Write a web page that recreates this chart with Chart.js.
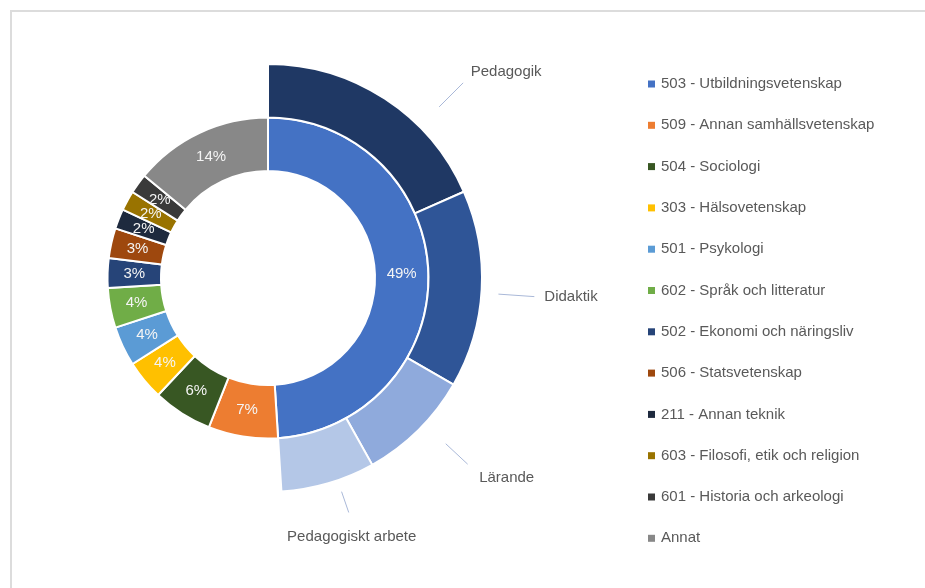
<!DOCTYPE html>
<html>
<head>
<meta charset="utf-8">
<script src="https://cdn.jsdelivr.net/npm/chart.js@4.4.0/dist/chart.umd.min.js"></script>
<style>
    body { margin: 0; background: #fff; }
    #wrap { position: relative; width: 925px; height: 588px; overflow: hidden; }
    #frame { position: absolute; left: 10px; top: 10px; width: 930px; height: 600px;
             border-top: 2px solid #dcdcdc; border-left: 2px solid #dcdcdc; }
    canvas { position: absolute; left: 0; top: 0; }
</style>
</head>
<body>
<div id="wrap">
    <div id="frame"></div>
    <canvas id="donut" width="925" height="588"></canvas>
</div>
<script>
// Inre ringen: ämnen
const categories = [
    "503 - Utbildningsvetenskap",
    "509 - Annan samhällsvetenskap",
    "504 - Sociologi",
    "303 - Hälsovetenskap",
    "501 - Psykologi",
    "602 - Språk och litteratur",
    "502 - Ekonomi och näringsliv",
    "506 - Statsvetenskap",
    "211 - Annan teknik",
    "603 - Filosofi, etik och religion",
    "601 - Historia och arkeologi",
    "Annat"
];
const shares = [49, 7, 6, 4, 4, 4, 3, 3, 2, 2, 2, 14];
const colors = ["#4472C4", "#ED7D31", "#385723", "#FFC000", "#5B9BD5", "#70AD47",
                "#264478", "#9E480E", "#1E2A3E", "#997300", "#3A3A3A", "#888888"];

// Yttre ringen: uppdelning av 503
const subLabels = ["Pedagogik", "Didaktik", "Lärande", "Pedagogiskt arbete"];
const subShares = [18.4, 14.9, 8.6, 7.1];
const subColors = ["#1F3864", "#2F5597", "#8FAADC", "#B4C7E7"];

// etikettlinjer: vinkel (grader från toppen), radie start, radie slut, textförskjutning
const subLabelLines = [
    { angle: 45, r0: 242, r1: 276, dx: 43, dy: -11, align: "center" },
    { angle: 94, r0: 231, r1: 267, dx: 10, dy: 0, align: "left" },
    { angle: 133, r0: 243, r1: 273, dx: 39, dy: 14, align: "center" },
    { angle: 161, r0: 226, r1: 248, dx: 3, dy: 24, align: "center" }
];

const FONT = '15px "Liberation Sans", Arial, sans-serif';
const TEXT_COLOR = "#595959";

// resten av yttre ringen ska vara tom
const restShare = 100 - subShares.reduce((a, b) => a + b, 0);

const labelPlugin = {
    id: "labelPlugin",
    afterDraw(chart) {
        const ctx = chart.ctx;
        ctx.save();
        ctx.font = FONT;
        ctx.textBaseline = "middle";

        // procent i inre ringen
        const inner = chart.getDatasetMeta(1);
        ctx.fillStyle = "#F4F4F4";
        ctx.textAlign = "center";
        inner.data.forEach((arc, i) => {
            const p = arc.getCenterPoint();
            ctx.fillText(shares[i] + "%", p.x, p.y);
        });

        // etiketter för yttre ringen
        const outer = chart.getDatasetMeta(0);
        const cx = outer.data[0].x;
        const cy = outer.data[0].y;
        subLabelLines.forEach((l, i) => {
            const a = l.angle * Math.PI / 180;
            const x0 = cx + l.r0 * Math.sin(a), y0 = cy - l.r0 * Math.cos(a);
            const x1 = cx + l.r1 * Math.sin(a), y1 = cy - l.r1 * Math.cos(a);
            ctx.strokeStyle = "#A9B8D8";
            ctx.lineWidth = 1;
            ctx.beginPath();
            ctx.moveTo(x0, y0);
            ctx.lineTo(x1, y1);
            ctx.stroke();
            ctx.fillStyle = TEXT_COLOR;
            ctx.textAlign = l.align;
            ctx.fillText(subLabels[i], x1 + l.dx, y1 + l.dy);
        });

        // förklaring till höger
        ctx.textAlign = "left";
        categories.forEach((c, i) => {
            const y = 84 + i * 41.3;
            ctx.fillStyle = colors[i];
            ctx.fillRect(648, y - 3.5, 7, 7);
            ctx.fillStyle = TEXT_COLOR;
            ctx.fillText(c, 661, y);
        });
        ctx.restore();
    }
};

const ctx = document.getElementById("donut").getContext("2d");
const chart = new Chart(ctx, {
    type: "doughnut",
    data: {
        labels: categories,
        datasets: [
            {
                label: "503",
                data: subShares.concat([restShare]),
                backgroundColor: subColors.concat(["rgba(0,0,0,0)"]),
                borderColor: subColors.map(() => "#ffffff").concat(["rgba(0,0,0,0)"]),
                borderWidth: 2,
                weight: 1
            },
            {
                label: "Ämnen",
                data: shares,
                backgroundColor: colors,
                borderColor: "#ffffff",
                borderWidth: 2,
                weight: 1
            }
        ]
    },
    options: {
        responsive: false,
        animation: false,
        cutout: "50%",
        layout: {
            padding: { left: 53, top: 63, right: 442, bottom: 95 }
        },
        plugins: {
            legend: { display: false },
            tooltip: { enabled: false }
        }
    },
    plugins: [labelPlugin]
});
</script>
</body>
</html>
